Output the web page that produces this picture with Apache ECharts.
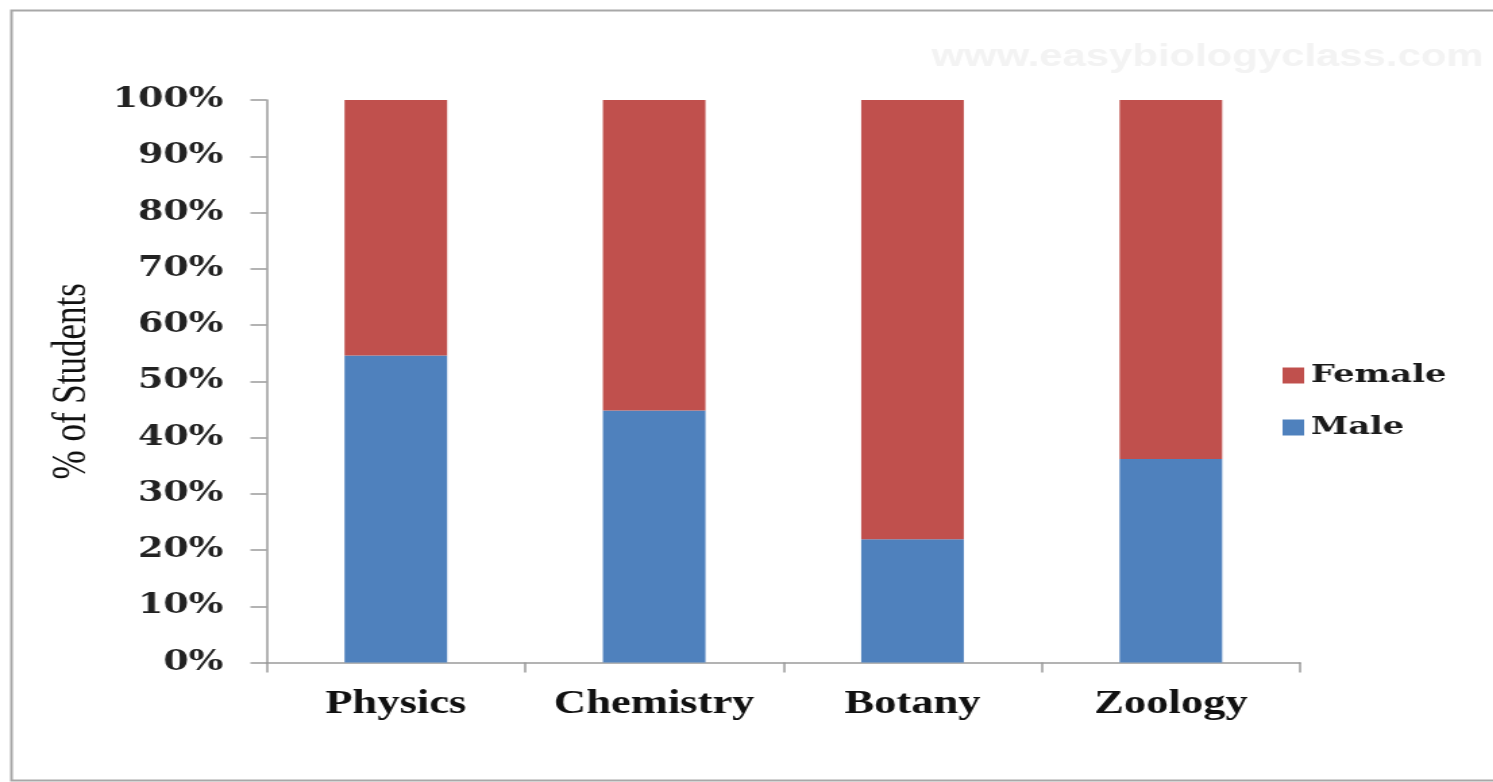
<!DOCTYPE html>
<html>
<head>
<meta charset="utf-8">
<script src="https://cdn.jsdelivr.net/npm/echarts@6/dist/echarts.min.js"></script>
<style>
  html, body { margin: 0; padding: 0; background: #ffffff; overflow: hidden; }
  /* the chart is laid out narrower and widened horizontally, giving the broad lettering */
  #chart { width: 1106px; height: 782px; transform: scaleX(1.35); transform-origin: 0 0; }
</style>
</head>
<body>
<div id="chart"></div>
<script>
// Share of students by subject, male vs female (percent)
const categories = ['Physics', 'Chemistry', 'Botany', 'Zoology'];
const maleShare = [54.6, 44.8, 21.9, 36.2];
const femaleShare = [45.4, 55.2, 78.1, 63.8];
const seriesNames = ['Female', 'Male'];

const chart = echarts.init(document.getElementById('chart'));

const tickFont = { fontFamily: 'DejaVu Serif', fontWeight: 'bold', fontSize: 27, color: '#222222' };
const axisGray = '#9a9a9a';

chart.setOption({
  backgroundColor: '#ffffff',
  animation: false,
  graphic: [
    {
      type: 'rect',
      left: 6, top: 8,
      shape: { width: 1140, height: 770 },
      style: { fill: 'none', stroke: '#a8a8a8', lineWidth: 2 },
      z: 0
    },
    {
      type: 'text',
      left: 690, top: 42,
      style: {
        text: 'www.easybiologyclass.com',
        fontFamily: 'Liberation Sans',
        fontWeight: 'bold',
        fontSize: 31,
        fill: '#f3f3f3'
      },
      z: 0
    }
  ],
  legend: {
    data: seriesNames,
    orient: 'vertical',
    left: 945,
    top: 358,
    itemWidth: 16,
    itemHeight: 16,
    itemGap: 27,
    icon: 'rect',
    selectedMode: false,
    textStyle: { fontFamily: 'DejaVu Serif', fontWeight: 'bold', fontSize: 25, color: '#1a1a1a' }
  },
  grid: { left: 197.5, right: 143, top: 100, bottom: 119.5, containLabel: false },
  xAxis: {
    type: 'category',
    data: categories,
    axisLine: { lineStyle: { color: axisGray, width: 1.5 } },
    axisTick: { show: true, interval: 0, length: 10, lineStyle: { color: axisGray, width: 1.5 } },
    axisLabel: {
      interval: 0,
      margin: 25,
      fontFamily: 'Liberation Serif',
      fontWeight: 'bold',
      fontSize: 33,
      color: '#111111'
    }
  },
  yAxis: {
    type: 'value',
    min: 0,
    max: 100,
    interval: 10,
    name: '% of Students',
    nameLocation: 'middle',
    nameGap: 126,
    nameRotate: 90,
    nameTextStyle: { fontFamily: 'Liberation Serif', fontSize: 35, color: '#111111' },
    axisLine: { show: true, lineStyle: { color: axisGray, width: 1.5 } },
    axisTick: { show: true, length: 12, lineStyle: { color: axisGray, width: 1.5 } },
    splitLine: { show: false },
    axisLabel: Object.assign({ margin: 32, formatter: '{value}%' }, tickFont)
  },
  series: [
    {
      name: 'Male',
      type: 'bar',
      stack: 'share',
      data: maleShare,
      barWidth: 76,
      itemStyle: { color: '#4F81BD' }
    },
    {
      name: 'Female',
      type: 'bar',
      stack: 'share',
      data: femaleShare,
      barWidth: 76,
      itemStyle: { color: '#C0504D' }
    }
  ]
});
</script>
</body>
</html>
